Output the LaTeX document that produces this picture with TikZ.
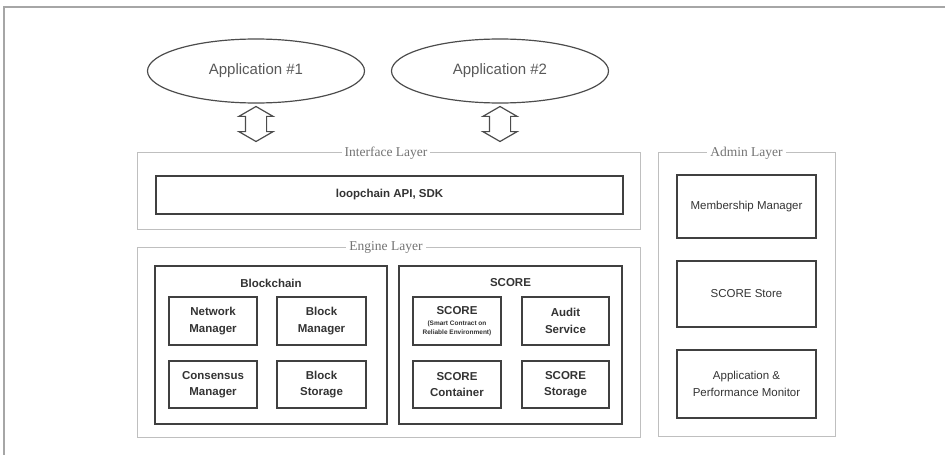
\documentclass[tikz,border=0pt]{standalone}
\usepackage{fontspec}
\setmainfont{Liberation Sans}
\newfontfamily\layerfont{Liberation Serif}
\usetikzlibrary{shapes.geometric, shapes.arrows}

\begin{document}
\begin{tikzpicture}[x=1pt, y=-1pt,
  app/.style={draw=black!70, line width=1.2pt, ellipse, minimum width=217pt, minimum height=64pt, inner sep=0pt, text=black!65, font=\fontsize{15}{17}\selectfont},
  twoway/.style={draw=black!70, line width=1.2pt, double arrow, rotate=90, minimum height=35pt, inner xsep=0pt, inner ysep=10pt, double arrow head extend=6.5pt, double arrow tip angle=120},
  layer/.style={draw=black!25, line width=0.9pt, rectangle, inner sep=0pt},
  layertitle/.style={fill=white, inner sep=3pt, text=black!55, font=\layerfont\fontsize{13.5}{15}\selectfont},
  group/.style={draw=black!75, line width=2pt, rectangle, inner sep=0pt},
  unit/.style={draw=black!75, line width=1.8pt, rectangle, inner sep=0pt, align=center, text=black!80, font=\fontsize{11.5}{16.5}\selectfont\bfseries},
  adminunit/.style={unit, minimum width=139pt, font=\fontsize{11.5}{16.5}\selectfont}]
\useasboundingbox (0,0) rectangle (945,455);
\draw[black!35, line width=1.5pt] (4,455) -- (4,7) -- (945,7);

% applications
\node[app] (app1) at (256,71) {Application \#1};
\node[app] (app2) at (500,71) {Application \#2};
\node[twoway] (arr1) at (256,124) {};
\node[twoway] (arr2) at (500,124) {};

% interface layer
\node[layer, minimum width=503pt, minimum height=77pt] (iface) at (388.5,190.5) {};
\node[layertitle] (ifacetitle) at (386,153) {Interface Layer};
\node[unit, minimum width=467pt, minimum height=38pt] (sdk) at (389.5,195) {loopchain API, SDK};

% engine layer
\node[layer, minimum width=503pt, minimum height=190pt] (engine) at (388.5,342) {};
\node[layertitle] (enginetitle) at (386,247) {Engine Layer};
\node[group, minimum width=232pt, minimum height=158pt] (chain) at (271,345) {};
\node[unit, draw=none] (chaintitle) at (271,283) {Blockchain};
\node[unit, minimum width=88pt, minimum height=48pt] (netmgr) at (213,321) {Network\\Manager};
\node[unit, minimum width=89pt, minimum height=48pt] (blkmgr) at (321.5,321) {Block\\Manager};
\node[unit, minimum width=88pt, minimum height=47pt] (consmgr) at (213,384.5) {Consensus\\Manager};
\node[unit, minimum width=89pt, minimum height=47pt] (blkstore) at (321.5,384.5) {Block\\Storage};

\node[group, minimum width=223pt, minimum height=158pt] (score) at (510.5,345) {};
\node[unit, draw=none] (scoretitle) at (510.5,283) {SCORE};
\node[unit, minimum width=88pt, minimum height=48pt] (scoreunit) at (457,321) {SCORE\\[-5pt]{\fontsize{6.5}{8}\selectfont (Smart Contract on}\\[-8pt]{\fontsize{6.5}{8}\selectfont Reliable Environment)}};
\node[unit, minimum width=87pt, minimum height=48pt] (audit) at (565.5,321) {Audit\\Service};
\node[unit, minimum width=88pt, minimum height=47pt] (container) at (457,384.5) {SCORE\\Container};
\node[unit, minimum width=87pt, minimum height=47pt] (scorestore) at (565.5,384.5) {SCORE\\Storage};

% admin layer
\node[layer, minimum width=177pt, minimum height=284pt] (admin) at (746.5,294) {};
\node[layertitle] (admintitle) at (746.5,153) {Admin Layer};
\node[adminunit, minimum height=63pt] (member) at (746.5,206.5) {Membership Manager};
\node[adminunit, minimum height=66pt] (store) at (746.5,294) {SCORE Store};
\node[adminunit, minimum height=68pt] (monitor) at (746.5,384) {Application \&\\Performance Monitor};
\end{tikzpicture}
\end{document}
